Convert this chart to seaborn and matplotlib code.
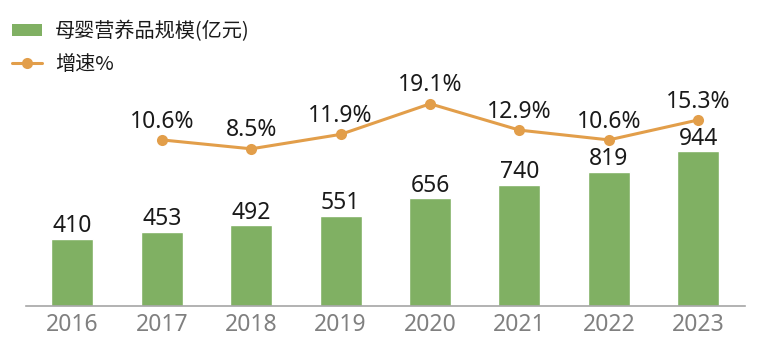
import numpy as np
import pandas as pd
import matplotlib
matplotlib.use('Agg')
import matplotlib.pyplot as plt
import seaborn as sns
from matplotlib.patches import Patch
from matplotlib.lines import Line2D

years = ['2016', '2017', '2018', '2019', '2020', '2021', '2022', '2023']
market_size = [410, 453, 492, 551, 656, 740, 819, 944]
growth = [None, 10.6, 8.5, 11.9, 19.1, 12.9, 10.6, 15.3]

bar_label = '母婴营养品规模(亿元)'
line_label = '增速%'

green = '#80b063'
orange = '#e29e4a'
num_font = ['Noto Sans', 'Noto Sans CJK SC', 'DejaVu Sans']

sns.set_theme(style='white')
plt.rcParams['font.family'] = ['Noto Sans CJK SC', 'DejaVu Sans']

df = pd.DataFrame({'year': years, 'size': market_size, 'growth': growth})

fig = plt.figure(figsize=(7.75, 3.54), dpi=100)
ax = fig.add_axes([0.0335, 0.1356, 0.9275, 0.834])

sns.barplot(data=df, x='year', y='size', color=green, width=0.47,
            saturation=1, ax=ax)
ax.set_ylim(0, 1801)
ax.set_xlim(-0.52, 7.52)
ax.set_xlabel('')
ax.set_ylabel('')
ax.set_yticks([])
for s in ['top', 'right', 'left']:
    ax.spines[s].set_visible(False)
ax.spines['bottom'].set_color('#a6a6a6')
ax.spines['bottom'].set_linewidth(1.2)
ax.tick_params(axis='x', colors='#808080', length=0, pad=5)
for t in ax.get_xticklabels():
    t.set_fontfamily(num_font)
    t.set_fontsize(16.5)

for i, v in enumerate(market_size):
    ax.text(i, v + 4, str(v), ha='center', va='bottom', fontsize=16.5,
            color='#1a1a1a', family=num_font)

ax2 = ax.twinx()
g = df.dropna(subset=['growth'])
xpos = [years.index(y) for y in g['year']]
sns.lineplot(x=xpos, y=g['growth'].values, color=orange, linewidth=2.2,
             marker='o', markersize=8, markeredgewidth=0, ax=ax2)
ax2.set_ylim(-28.5, 41.0)
ax2.set_yticks([])
ax2.set_xlim(-0.52, 7.52)
for s in ['top', 'right', 'left', 'bottom']:
    ax2.spines[s].set_visible(False)

for x, v in zip(xpos, g['growth'].values):
    ax2.text(x, v + 1.5, f'{v:.1f}%', ha='center', va='bottom', fontsize=16.5,
             color='#1a1a1a', family=num_font)

handles = [Patch(facecolor=green, edgecolor='none'),
           Line2D([0], [0], color=orange, linewidth=2.2, marker='o',
                  markersize=8, markeredgewidth=0)]
fig.legend(handles, [bar_label, line_label], loc='upper left',
           bbox_to_anchor=(0.015, 0.94), frameon=False, fontsize=14.5,
           handlelength=1.5, handleheight=0.55, labelspacing=0.55,
           handletextpad=0.65, borderpad=0, borderaxespad=0,
           labelcolor='#1a1a1a')

fig.savefig('out.png', dpi=100)
